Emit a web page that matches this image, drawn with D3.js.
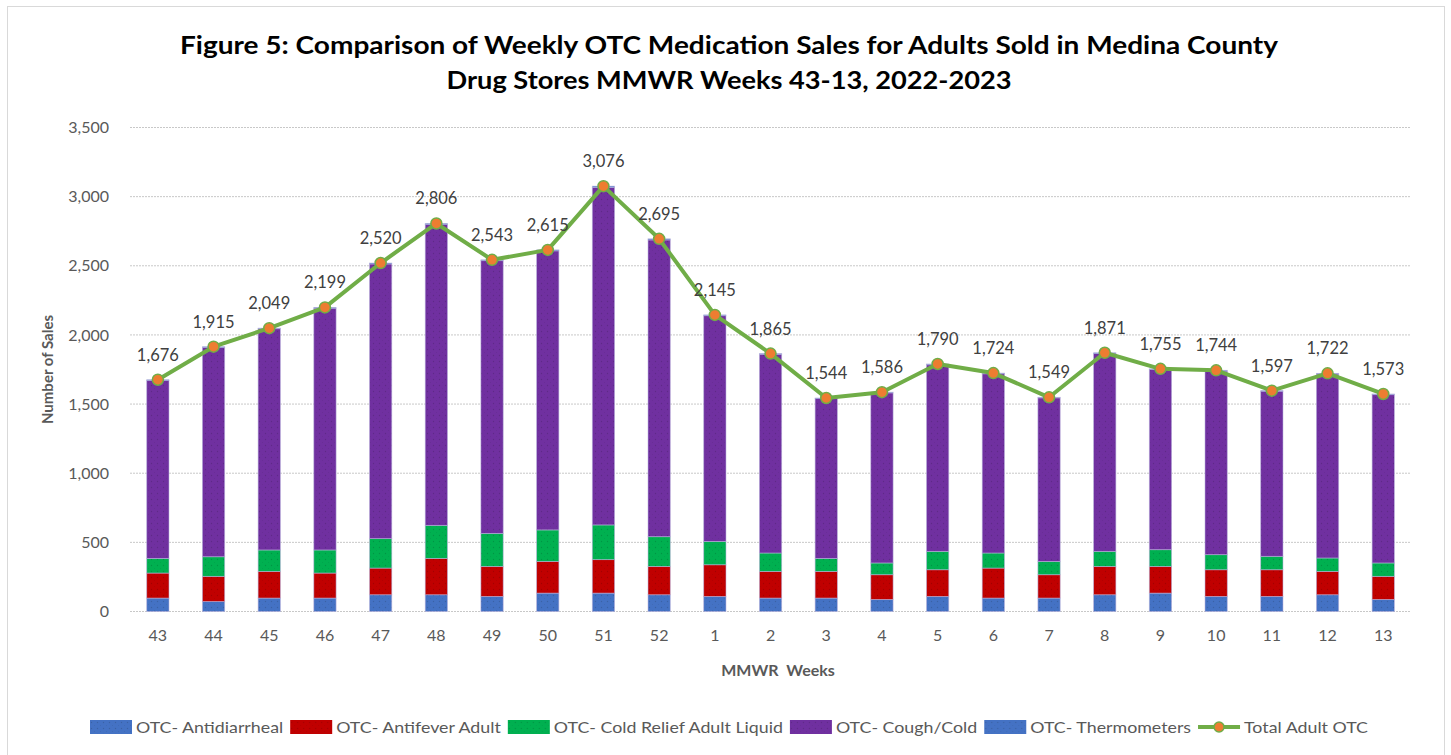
<!DOCTYPE html>
<html>
<head>
<meta charset="utf-8">
<script src="https://cdn.jsdelivr.net/npm/d3@7"></script>
<style>
  body { margin: 0; background: #fff; }
  svg { font-family: Lato, "Open Sans", sans-serif; }
</style>
</head>
<body>
<svg id="chart" width="1451" height="755"></svg>
<script>
(function(d3) {
  'use strict';

  // MMWR weeks, 2022-2023
  var weeks = ['43', '44', '45', '46', '47', '48', '49', '50', '51', '52',
               '1', '2', '3', '4', '5', '6', '7', '8', '9', '10', '11', '12', '13'];

  var antidiarrheal = [97, 72, 97, 97, 121, 121, 109, 133, 133, 121, 109, 97, 97, 87, 109, 97, 97, 121, 133, 109, 109, 121, 87];
  var antifever     = [181, 182, 193, 181, 193, 263, 217, 229, 242, 205, 229, 193, 193, 179, 193, 217, 169, 205, 193, 193, 193, 169, 167];
  var coldLiquid    = [106, 142, 155, 167, 213, 239, 239, 228, 251, 215, 169, 133, 94, 85, 133, 109, 96, 109, 121, 109, 97, 97, 97];
  var coughCold     = [1287, 1513, 1600, 1748, 1986, 2175, 1972, 2018, 2441, 2146, 1632, 1437, 1156, 1230, 1349, 1296, 1183, 1430, 1303, 1327, 1194, 1330, 1217];
  var thermometers  = [5, 6, 4, 6, 7, 8, 6, 7, 9, 8, 6, 5, 4, 5, 6, 5, 4, 6, 5, 6, 4, 5, 5];
  var totalAdult    = [1676, 1915, 2049, 2199, 2520, 2806, 2543, 2615, 3076, 2695, 2145, 1865, 1544, 1586, 1790, 1724, 1549, 1871, 1755, 1744, 1597, 1722, 1573];

  var yTicks = [0, 500, 1000, 1500, 2000, 2500, 3000, 3500];

  var series = [
    { key: 'antidiarrheal', name: 'OTC- Antidiarrheal', values: antidiarrheal, color: '#4472c4' },
    { key: 'antifever', name: 'OTC- Antifever Adult', values: antifever, color: '#c00000' },
    { key: 'coldLiquid', name: 'OTC- Cold Relief Adult Liquid', values: coldLiquid, color: '#00b050' },
    { key: 'coughCold', name: 'OTC- Cough/Cold', values: coughCold, color: '#7030a0' },
    { key: 'thermometers', name: 'OTC- Thermometers', values: thermometers, color: '#4472c4' }
  ];
  var lineColor = '#70ad47';
  var markerColor = '#ed7d31';

  var rows = weeks.map(function(w, i) {
    var r = { week: w, total: totalAdult[i] };
    series.forEach(function(s) { r[s.key] = s.values[i]; });
    return r;
  });

  var svg = d3.select('#chart');
  var margin = { top: 127.5, left: 130, right: 40, bottom: 143.5 };
  var W = 1451, H = 755;

  // speckled pattern for the bar fills
  var defs = svg.append('defs');
  series.forEach(function(s) {
    var p = defs.append('pattern')
      .attr('id', 'pat-' + s.key)
      .attr('patternUnits', 'userSpaceOnUse')
      .attr('width', 6).attr('height', 6);
    p.append('rect').attr('width', 6).attr('height', 6).attr('fill', s.color);
    p.append('circle').attr('cx', 1.5).attr('cy', 1.5).attr('r', 0.7)
      .attr('fill', d3.color(s.color).darker(0.8)).attr('opacity', 0.6);
    p.append('circle').attr('cx', 4.5).attr('cy', 4.5).attr('r', 0.6)
      .attr('fill', d3.color(s.color).darker(0.6)).attr('opacity', 0.4);
  });

  // outer border
  svg.append('rect')
    .attr('x', 7.5).attr('y', 6.5)
    .attr('width', 1437).attr('height', 760)
    .attr('fill', 'none')
    .attr('stroke', '#d9d9d9');

  // title
  var title = svg.append('g')
    .attr('font-weight', 'bold')
    .attr('font-size', 25)
    .attr('fill', '#000')
    .attr('text-anchor', 'middle');
  title.append('text').attr('x', 729).attr('y', 54)
    .attr('textLength', 1098).attr('lengthAdjust', 'spacingAndGlyphs')
    .text('Figure 5: Comparison of Weekly OTC Medication Sales for Adults Sold in Medina County');
  title.append('text').attr('x', 729).attr('y', 89)
    .attr('textLength', 565).attr('lengthAdjust', 'spacingAndGlyphs')
    .text('Drug Stores MMWR Weeks 43-13, 2022-2023');

  var x = d3.scaleBand()
    .domain(weeks)
    .range([margin.left, W - margin.right + 0.1])
    .paddingInner(0.6)
    .paddingOuter(0.3);

  var y = d3.scaleLinear()
    .domain([0, 3500])
    .range([H - margin.bottom, margin.top]);

  // gridlines
  svg.append('g')
    .selectAll('line')
    .data(yTicks)
    .enter().append('line')
      .attr('x1', margin.left).attr('x2', W - margin.right)
      .attr('y1', function(d) { return y(d); })
      .attr('y2', function(d) { return y(d); })
      .attr('stroke', '#c8c8c8')
      .attr('stroke-dasharray', '2,1');

  // y axis labels
  var yAxis = svg.append('g')
    .attr('transform', 'translate(' + (margin.left - 18) + ',0)')
    .call(d3.axisLeft(y).tickValues(yTicks).tickSize(0).tickFormat(d3.format(',')));
  yAxis.select('.domain').remove();
  yAxis.selectAll('text')
    .attr('font-family', 'Lato, "Open Sans", sans-serif')
    .attr('font-size', 16)
    .attr('fill', '#595959');

  svg.append('text')
    .attr('transform', 'translate(53,' + y(1750) + ') rotate(-90)')
    .attr('text-anchor', 'middle')
    .attr('font-weight', 'bold')
    .attr('font-size', 15)
    .attr('fill', '#595959')
    .text('Number of Sales');

  // x axis
  var xAxis = svg.append('g')
    .attr('transform', 'translate(0,' + (y(0) + 15) + ')')
    .call(d3.axisBottom(x).tickSize(0));
  xAxis.select('.domain').remove();
  xAxis.selectAll('text')
    .attr('font-family', 'Lato, "Open Sans", sans-serif')
    .attr('font-size', 16)
    .attr('fill', '#595959');

  svg.append('text')
    .attr('x', 778).attr('y', 676)
    .attr('text-anchor', 'middle')
    .attr('font-weight', 'bold')
    .attr('font-size', 16)
    .attr('fill', '#595959')
    .attr('word-spacing', 4)
    .text('MMWR Weeks');

  // stacked bars
  var stack = d3.stack().keys(series.map(function(s) { return s.key; }));
  var layers = stack(rows);

  svg.append('g')
    .selectAll('g')
    .data(layers)
    .enter().append('g')
      .attr('fill', function(d) { return 'url(#pat-' + d.key + ')'; })
    .selectAll('rect')
    .data(function(d) { return d; })
    .enter().append('rect')
      .attr('x', function(d) { return x(d.data.week); })
      .attr('y', function(d) { return y(d[1]); })
      .attr('width', x.bandwidth())
      .attr('height', function(d) { return y(d[0]) - y(d[1]); })
      .attr('stroke', '#b8b0dc')
      .attr('stroke-width', 0.8)
      .attr('stroke-opacity', 0.7);

  // total line
  var line = d3.line()
    .x(function(d) { return x(d.week) + x.bandwidth() / 2; })
    .y(function(d) { return y(d.total); });

  svg.append('path')
    .datum(rows)
    .attr('d', line)
    .attr('fill', 'none')
    .attr('stroke', lineColor)
    .attr('stroke-width', 4)
    .attr('stroke-linejoin', 'round');

  svg.append('g')
    .selectAll('circle')
    .data(rows)
    .enter().append('circle')
      .attr('cx', function(d) { return x(d.week) + x.bandwidth() / 2; })
      .attr('cy', function(d) { return y(d.total); })
      .attr('r', 5.5)
      .attr('fill', markerColor)
      .attr('stroke', lineColor)
      .attr('stroke-width', 1.5);

  svg.append('g')
    .selectAll('text')
    .data(rows)
    .enter().append('text')
      .attr('x', function(d) { return x(d.week) + x.bandwidth() / 2; })
      .attr('y', function(d) { return y(d.total) - 19; })
      .attr('text-anchor', 'middle')
      .attr('font-size', 16.5)
      .attr('fill', '#404040')
      .text(function(d) { return d3.format(',')(d.total); });

  // legend
  var legendItems = series.map(function(s) { return { name: s.name, key: s.key, type: 'box' }; });
  legendItems.push({ name: 'Total Adult OTC', type: 'line' });

  var legendLeft = 90, legendRight = 1368, gap = 7;
  var legend = svg.append('g').attr('transform', 'translate(0,727)');
  var items = legend.selectAll('g')
    .data(legendItems)
    .enter().append('g');
  items.each(function(d) {
    var g = d3.select(this);
    if (d.type === 'box') {
      g.append('rect').attr('x', 0).attr('y', -7).attr('width', 42).attr('height', 14)
        .attr('fill', 'url(#pat-' + d.key + ')');
    } else {
      g.append('line').attr('x1', 0).attr('x2', 42).attr('y1', 0).attr('y2', 0)
        .attr('stroke', lineColor).attr('stroke-width', 4);
      g.append('circle').attr('cx', 21).attr('cy', 0).attr('r', 5)
        .attr('fill', markerColor).attr('stroke', lineColor).attr('stroke-width', 1.5);
    }
    d.text = g.append('text').attr('x', 46).attr('y', 5.5)
      .attr('font-size', 16).attr('fill', '#595959').text(d.name);
    d.w = d.text.node().getComputedTextLength();
  });
  var natural = d3.sum(legendItems, function(d) { return d.w; });
  var fixed = legendItems.length * 46 + (legendItems.length - 1) * gap;
  var k = (legendRight - legendLeft - fixed) / natural;
  var cursor = legendLeft;
  items.each(function(d) {
    var tw = d.w * k;
    d.text.attr('textLength', tw).attr('lengthAdjust', 'spacingAndGlyphs');
    d3.select(this).attr('transform', 'translate(' + cursor + ',0)');
    cursor += 46 + tw + gap;
  });
})(window.d3);
</script>
</body>
</html>
